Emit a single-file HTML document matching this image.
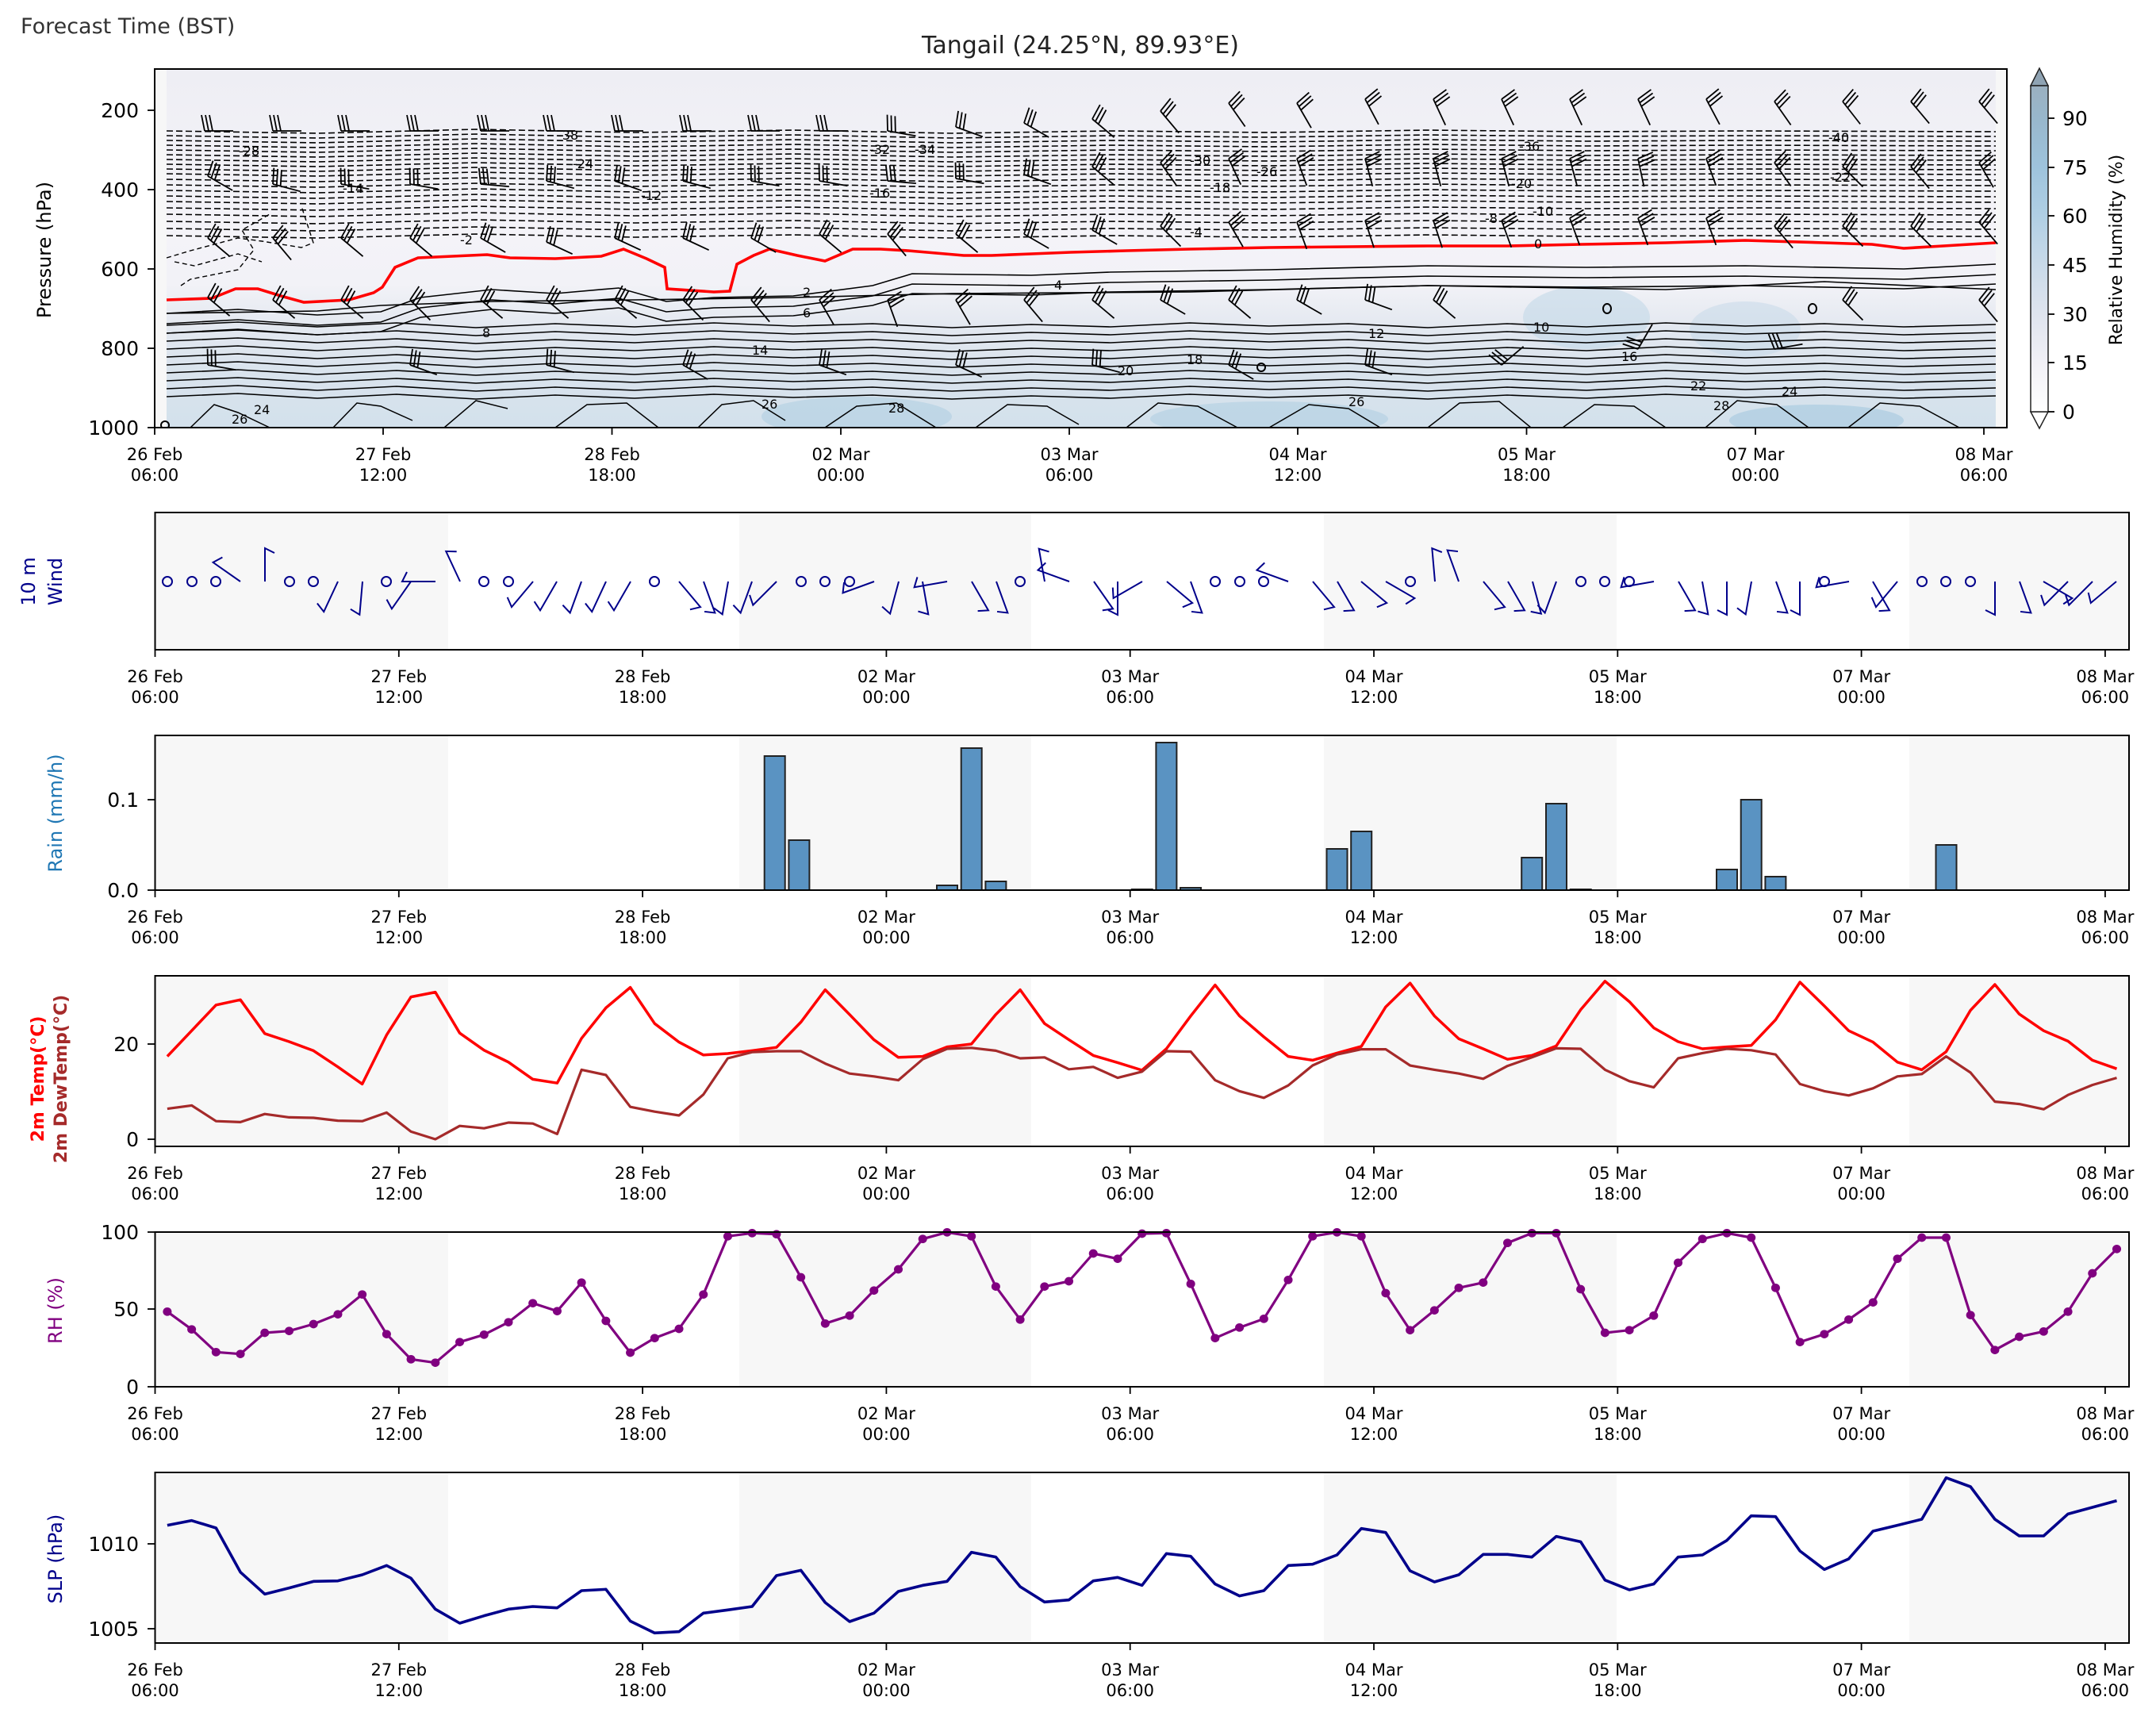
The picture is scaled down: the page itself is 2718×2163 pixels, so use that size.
<!DOCTYPE html>
<html><head><meta charset="utf-8"><style>
html,body{margin:0;padding:0;background:#fff}
svg{display:block}
text{font-family:"DejaVu Sans","Liberation Sans",sans-serif}
</style></head><body>
<svg width="2718" height="2163" viewBox="0 0 2718 2163" xmlns="http://www.w3.org/2000/svg">
<defs>
<linearGradient id="bg" x1="0" y1="87" x2="0" y2="539" gradientUnits="userSpaceOnUse">
<stop offset="0" stop-color="#eeeef4"/><stop offset="0.45" stop-color="#f4f3f8"/><stop offset="0.6" stop-color="#f2f2f7"/><stop offset="0.72" stop-color="#e3e8f0"/><stop offset="0.85" stop-color="#d9e3ed"/><stop offset="1" stop-color="#d3e1ec"/>
</linearGradient>
<linearGradient id="cb" x1="0" y1="519" x2="0" y2="108" gradientUnits="userSpaceOnUse">
<stop offset="0" stop-color="#ffffff"/><stop offset="0.15" stop-color="#f1f0f6"/><stop offset="0.3" stop-color="#dfe4ee"/><stop offset="0.45" stop-color="#c9dae9"/><stop offset="0.6" stop-color="#b0cfe4"/><stop offset="0.75" stop-color="#9ec3dc"/><stop offset="0.9" stop-color="#98b7cc"/><stop offset="1" stop-color="#9bb0c0"/>
</linearGradient>
<clipPath id="tc"><rect x="195" y="87" width="2335" height="452"/></clipPath>
<path id="dT" d="M210,0 L400,3 L600,-2 L800,2 L1000,-1 L1200,3 L1400,0 L1600,2 L1800,-1 L2000,1 L2200,0 L2516,1" fill="none" stroke="#000" stroke-width="1.6" stroke-dasharray="8 4"/>
<path id="sA" d="M210,60 L300,55 L400,62 L480,58 L530,40 L620,30 L700,35 L780,28 L840,45 L900,40 L1000,38 L1100,25 L1150,10 L1300,12 L1400,8 L1600,5 L1800,0 L2000,2 L2200,0 L2400,4 L2516,-2" fill="none" stroke="#000" stroke-width="1.6"/>
<path id="sB" d="M210,0 L300,-4 L400,2 L500,-3 L600,3 L700,-2 L800,2 L900,-3 L1000,1 L1100,-2 L1200,3 L1300,-1 L1400,2 L1500,-3 L1600,1 L1700,-2 L1800,3 L1900,-2 L2000,2 L2100,-3 L2200,1 L2300,-2 L2400,2 L2516,-1" fill="none" stroke="#000" stroke-width="1.6"/>
<path id="bb" d="M0,0 L36,0 M0,0 L-4,-20 M5,0 L1,-20 M10,0 L6,-20" fill="none" stroke="#000" stroke-width="1.8"/>
<path id="wb" d="M0,0 L0,42 L-12,36" fill="none" stroke="#00008b" stroke-width="2"/>
<marker id="rm" markerUnits="userSpaceOnUse" markerWidth="1" markerHeight="1" refX="0" refY="0" overflow="visible"><ellipse cx="0" cy="0" rx="0.18" ry="16" fill="#800080"/></marker>
</defs>

<text x="26" y="42" font-size="27" fill="#333">Forecast Time (BST)</text>
<text x="1362" y="67" font-size="30" text-anchor="middle" fill="#222">Tangail (24.25°N, 89.93°E)</text>

<!-- TOP PANEL -->
<rect x="195" y="87" width="2335" height="452" fill="#f7f7f7"/>
<g clip-path="url(#tc)">
<rect x="210" y="87" width="2306" height="452" fill="url(#bg)"/>
<ellipse cx="1080" cy="525" rx="120" ry="25" fill="#a9cbe0" opacity="0.5"/>
<ellipse cx="1600" cy="528" rx="150" ry="22" fill="#a9cbe0" opacity="0.5"/>
<ellipse cx="2000" cy="400" rx="80" ry="40" fill="#c3d8e8" opacity="0.6"/>
<ellipse cx="2200" cy="415" rx="70" ry="35" fill="#c3d8e8" opacity="0.5"/>
<ellipse cx="2290" cy="530" rx="110" ry="20" fill="#9cc3dc" opacity="0.5"/>
<use href="#dT" y="165"/><use href="#dT" y="171"/><use href="#dT" y="177"/><use href="#dT" y="183"/><use href="#dT" y="189"/><use href="#dT" y="195"/><use href="#dT" y="201"/><use href="#dT" y="207"/><use href="#dT" y="213"/><use href="#dT" y="219"/><use href="#dT" y="226"/><use href="#dT" y="233"/><use href="#dT" y="240"/><use href="#dT" y="247"/><use href="#dT" y="254"/><use href="#dT" y="262"/><use href="#dT" y="270"/><use href="#dT" y="279"/><use href="#dT" y="288"/><use href="#dT" y="297"/>
<path d="M210,325 L240,316 L300,300 L330,304 L380,312 L395,306 L380,260 M228,360 L240,352 L300,340 L320,315 L305,290 L340,270 M220,330 L245,335 L300,320 L330,330" fill="none" stroke="#000" stroke-width="1.4" stroke-dasharray="6 4"/>
<use href="#sA" y="335"/><use href="#sA" y="348"/><use href="#sA" y="360"/>
<use href="#sB" y="410"/><use href="#sB" y="420"/><use href="#sB" y="430"/><use href="#sB" y="440"/><use href="#sB" y="450"/><use href="#sB" y="460"/><use href="#sB" y="470"/><use href="#sB" y="480"/><use href="#sB" y="490"/><use href="#sB" y="500"/>
<path d="M210,395 L400,392 L480,385 L620,380 L800,378 L1000,375 L1200,370 L1500,368 L1800,360 L2100,365 L2300,355 L2516,365" fill="none" stroke="#000" stroke-width="1.6"/>
<path d="M240,539 L270,510 L300,520 L340,539 M420,539 L450,508 L480,512 L520,530 M560,539 L600,505 L640,515 M700,539 L740,510 L790,508 L830,539 M880,539 L910,510 L950,505 L990,530 M1040,539 L1080,512 L1130,508 L1180,539 M1230,539 L1270,510 L1320,512 L1360,535 M1420,539 L1460,508 L1510,512 L1560,539 M1600,539 L1650,510 L1700,515 L1740,539 M1800,539 L1840,508 L1890,506 L1930,539 M1970,539 L2010,510 L2060,512 L2100,539 M2150,539 L2190,505 L2240,510 L2280,539 M2330,539 L2370,508 L2420,512 L2470,539" fill="none" stroke="#000" stroke-width="1.5"/>
<polyline points="210,378 267,376 297,364 325,364 354,373 383,381 440,378 471,369 482,362 498,337 527,325 614,321 643,325 700,326 758,323 786,314 815,326 838,337 841,364 900,368 920,367 929,333 950,322 970,314 1005,322 1040,329 1075,314 1110,314 1145,316 1180,319 1215,322 1250,322 1300,320 1350,318 1420,316 1500,314 1600,312 1700,311 1800,310 1900,310 1994,308 2100,306 2200,303 2300,306 2360,308 2400,313 2450,310 2516,306" fill="none" stroke="#ff0000" stroke-width="3.6"/>
<g font-size="16" fill="#000">
<text x="301" y="196">-28</text><text x="703" y="176">-38</text><text x="722" y="212">-24</text><text x="432" y="243">-14</text><text x="808" y="252">-12</text><text x="580" y="308">-2</text><text x="608" y="425">8</text><text x="320" y="522">24</text><text x="292" y="534">26</text>
<text x="1096" y="194">-32</text><text x="1153" y="194">-34</text><text x="1096" y="249">-16</text><text x="1500" y="208">-30</text><text x="1584" y="222">-26</text><text x="1525" y="242">-18</text><text x="1500" y="298">-4</text><text x="1872" y="281">-8</text>
<text x="1012" y="374">2</text><text x="1329" y="365">4</text><text x="1012" y="400">6</text><text x="1725" y="426">12</text><text x="948" y="447">14</text><text x="1496" y="459">18</text><text x="1409" y="473">20</text>
<text x="2305" y="179">-40</text><text x="1915" y="190">-36</text><text x="1905" y="237">-20</text><text x="2307" y="229">-22</text><text x="1932" y="272">-10</text><text x="1934" y="313">0</text><text x="1933" y="418">10</text><text x="2044" y="455">16</text><text x="2131" y="492">22</text><text x="2246" y="499">24</text><text x="2160" y="517">28</text><text x="960" y="515">26</text><text x="1700" y="512">26</text><text x="1120" y="520">28</text>
</g>
<g>
<use href="#bb" transform="translate(258,165)"/><use href="#bb" transform="translate(344,165)"/><use href="#bb" transform="translate(430,165)"/><use href="#bb" transform="translate(517,165)"/><use href="#bb" transform="translate(606,165)"/><use href="#bb" transform="translate(689,165)"/><use href="#bb" transform="translate(775,165)"/><use href="#bb" transform="translate(861,165)"/><use href="#bb" transform="translate(947,165)"/><use href="#bb" transform="translate(1033,165)"/><use href="#bb" transform="translate(1119,165) rotate(10)"/><use href="#bb" transform="translate(1205,160) rotate(20)"/><use href="#bb" transform="translate(1291,155) rotate(30)"/><use href="#bb" transform="translate(1377,150) rotate(40)"/><use href="#bb" transform="translate(1463,140) rotate(50)"/><use href="#bb" transform="translate(1549,130) rotate(55)"/><use href="#bb" transform="translate(1635,130) rotate(60)"/><use href="#bb" transform="translate(1721,125) rotate(62)"/><use href="#bb" transform="translate(1807,125) rotate(65)"/><use href="#bb" transform="translate(1893,125) rotate(65)"/><use href="#bb" transform="translate(1979,125) rotate(65)"/><use href="#bb" transform="translate(2065,125) rotate(65)"/><use href="#bb" transform="translate(2151,125) rotate(62)"/><use href="#bb" transform="translate(2237,128) rotate(55)"/><use href="#bb" transform="translate(2323,128) rotate(52)"/><use href="#bb" transform="translate(2409,128) rotate(50)"/><use href="#bb" transform="translate(2495,128) rotate(50)"/>
<use href="#bb" transform="translate(262,222) rotate(30)"/><use href="#bb" transform="translate(344,232) rotate(15)"/><use href="#bb" transform="translate(430,232) rotate(10)"/><use href="#bb" transform="translate(517,232) rotate(10)"/><use href="#bb" transform="translate(606,232) rotate(5)"/><use href="#bb" transform="translate(689,228) rotate(15)"/><use href="#bb" transform="translate(775,228) rotate(20)"/><use href="#bb" transform="translate(861,228) rotate(15)"/><use href="#bb" transform="translate(947,228) rotate(10)"/><use href="#bb" transform="translate(1033,228) rotate(10)"/><use href="#bb" transform="translate(1119,228) rotate(5)"/><use href="#bb" transform="translate(1205,225) rotate(10)"/><use href="#bb" transform="translate(1291,220) rotate(20)"/><use href="#bb" transform="translate(1377,210) rotate(40)"/><use href="#bb" transform="translate(1463,205) rotate(55)"/><use href="#bb" transform="translate(1549,200) rotate(65)"/><use href="#bb" transform="translate(1635,200) rotate(70)"/><use href="#bb" transform="translate(1721,200) rotate(75)"/><use href="#bb" transform="translate(1807,200) rotate(75)"/><use href="#bb" transform="translate(1893,200) rotate(75)"/><use href="#bb" transform="translate(1979,200) rotate(75)"/><use href="#bb" transform="translate(2065,200) rotate(78)"/><use href="#bb" transform="translate(2151,200) rotate(70)"/><use href="#bb" transform="translate(2237,205) rotate(55)"/><use href="#bb" transform="translate(2323,210) rotate(45)"/><use href="#bb" transform="translate(2409,210) rotate(50)"/><use href="#bb" transform="translate(2495,205) rotate(60)"/>
<use href="#bb" transform="translate(262,300) rotate(40)"/><use href="#bb" transform="translate(344,300) rotate(50)"/><use href="#bb" transform="translate(430,300) rotate(40)"/><use href="#bb" transform="translate(517,300) rotate(40)"/><use href="#bb" transform="translate(606,300) rotate(30)"/><use href="#bb" transform="translate(689,305) rotate(25)"/><use href="#bb" transform="translate(775,300) rotate(25)"/><use href="#bb" transform="translate(861,300) rotate(25)"/><use href="#bb" transform="translate(947,300) rotate(30)"/><use href="#bb" transform="translate(1033,295) rotate(40)"/><use href="#bb" transform="translate(1119,295) rotate(50)"/><use href="#bb" transform="translate(1205,295) rotate(40)"/><use href="#bb" transform="translate(1291,295) rotate(30)"/><use href="#bb" transform="translate(1377,290) rotate(30)"/><use href="#bb" transform="translate(1463,285) rotate(45)"/><use href="#bb" transform="translate(1549,280) rotate(60)"/><use href="#bb" transform="translate(1635,280) rotate(70)"/><use href="#bb" transform="translate(1721,278) rotate(72)"/><use href="#bb" transform="translate(1807,278) rotate(72)"/><use href="#bb" transform="translate(1893,278) rotate(70)"/><use href="#bb" transform="translate(1979,275) rotate(70)"/><use href="#bb" transform="translate(2065,275) rotate(70)"/><use href="#bb" transform="translate(2151,275) rotate(70)"/><use href="#bb" transform="translate(2237,285) rotate(50)"/><use href="#bb" transform="translate(2323,285) rotate(45)"/><use href="#bb" transform="translate(2409,285) rotate(45)"/><use href="#bb" transform="translate(2495,280) rotate(50)"/>
<use href="#bb" transform="translate(262,375) rotate(40)"/><use href="#bb" transform="translate(344,378) rotate(40)"/><use href="#bb" transform="translate(430,378) rotate(40)"/><use href="#bb" transform="translate(517,378) rotate(45)"/><use href="#bb" transform="translate(606,378) rotate(40)"/><use href="#bb" transform="translate(689,378) rotate(40)"/><use href="#bb" transform="translate(775,378) rotate(40)"/><use href="#bb" transform="translate(861,378) rotate(45)"/><use href="#bb" transform="translate(947,378) rotate(50)"/><use href="#bb" transform="translate(1033,378) rotate(60)"/><use href="#bb" transform="translate(1119,378) rotate(70)"/><use href="#bb" transform="translate(1205,378) rotate(60)"/><use href="#bb" transform="translate(1291,378) rotate(50)"/><use href="#bb" transform="translate(1377,378) rotate(40)"/><use href="#bb" transform="translate(1463,378) rotate(30)"/><use href="#bb" transform="translate(1549,378) rotate(40)"/><use href="#bb" transform="translate(1635,378) rotate(30)"/><use href="#bb" transform="translate(1721,378) rotate(20)"/><use href="#bb" transform="translate(1807,378) rotate(40)"/><use href="#bb" transform="translate(2323,378) rotate(45)"/><use href="#bb" transform="translate(2495,378) rotate(50)"/>
<use href="#bb" transform="translate(262,460) rotate(10)"/><use href="#bb" transform="translate(517,460) rotate(20)"/><use href="#bb" transform="translate(689,460) rotate(15)"/><use href="#bb" transform="translate(861,460) rotate(30)"/><use href="#bb" transform="translate(1033,460) rotate(20)"/><use href="#bb" transform="translate(1205,460) rotate(25)"/><use href="#bb" transform="translate(1377,460) rotate(15)"/><use href="#bb" transform="translate(1549,460) rotate(30)"/><use href="#bb" transform="translate(1721,460) rotate(20)"/><use href="#bb" transform="translate(1893,460) rotate(-40)"/><use href="#bb" transform="translate(2065,440) rotate(-60)"/><use href="#bb" transform="translate(2237,440) rotate(-10)"/>
</g>
<g fill="none" stroke="#000" stroke-width="2"><ellipse cx="1590" cy="463" rx="5" ry="5"/><ellipse cx="2026" cy="389" rx="5" ry="6"/><ellipse cx="2285" cy="389" rx="5" ry="6"/><ellipse cx="208" cy="536" rx="5" ry="5"/></g>
</g>
<rect x="195" y="87" width="2335" height="452" fill="none" stroke="#000" stroke-width="2"/>
<g stroke="#000" stroke-width="1.8">
<line x1="186" y1="139" x2="195" y2="139"/><line x1="186" y1="239" x2="195" y2="239"/><line x1="186" y1="339" x2="195" y2="339"/><line x1="186" y1="439" x2="195" y2="439"/><line x1="186" y1="539" x2="195" y2="539"/>
<line x1="195" y1="539" x2="195" y2="548"/><line x1="483" y1="539" x2="483" y2="548"/><line x1="771.5" y1="539" x2="771.5" y2="548"/><line x1="1060" y1="539" x2="1060" y2="548"/><line x1="1348" y1="539" x2="1348" y2="548"/><line x1="1636" y1="539" x2="1636" y2="548"/><line x1="1924.5" y1="539" x2="1924.5" y2="548"/><line x1="2213" y1="539" x2="2213" y2="548"/><line x1="2501" y1="539" x2="2501" y2="548"/>
</g>
<g font-size="25" text-anchor="end" fill="#000"><text x="175" y="148">200</text><text x="175" y="248">400</text><text x="175" y="348">600</text><text x="175" y="448">800</text><text x="175" y="548">1000</text></g>
<text transform="translate(64,315) rotate(-90)" font-size="24" text-anchor="middle">Pressure (hPa)</text>
<g font-size="21" text-anchor="middle">
<text x="195" y="580">26 Feb</text><text x="195" y="606">06:00</text>
<text x="483" y="580">27 Feb</text><text x="483" y="606">12:00</text>
<text x="771.5" y="580">28 Feb</text><text x="771.5" y="606">18:00</text>
<text x="1060" y="580">02 Mar</text><text x="1060" y="606">00:00</text>
<text x="1348" y="580">03 Mar</text><text x="1348" y="606">06:00</text>
<text x="1636" y="580">04 Mar</text><text x="1636" y="606">12:00</text>
<text x="1924.5" y="580">05 Mar</text><text x="1924.5" y="606">18:00</text>
<text x="2213" y="580">07 Mar</text><text x="2213" y="606">00:00</text>
<text x="2501" y="580">08 Mar</text><text x="2501" y="606">06:00</text>
</g>
<!-- colorbar -->
<polygon points="2560,108 2571,86 2582,108" fill="#8fa3b3" stroke="#222" stroke-width="1.5"/>
<polygon points="2560,519 2571,540 2582,519" fill="#fff" stroke="#222" stroke-width="1.5"/>
<rect x="2560" y="108" width="22" height="411" fill="url(#cb)" stroke="#222" stroke-width="1.5"/>
<g stroke="#000" stroke-width="1.8"><line x1="2582" y1="519" x2="2590" y2="519"/><line x1="2582" y1="457" x2="2590" y2="457"/><line x1="2582" y1="396" x2="2590" y2="396"/><line x1="2582" y1="334" x2="2590" y2="334"/><line x1="2582" y1="272" x2="2590" y2="272"/><line x1="2582" y1="211" x2="2590" y2="211"/><line x1="2582" y1="149" x2="2590" y2="149"/></g>
<g font-size="25"><text x="2600" y="528">0</text><text x="2600" y="466">15</text><text x="2600" y="405">30</text><text x="2600" y="343">45</text><text x="2600" y="281">60</text><text x="2600" y="220">75</text><text x="2600" y="158">90</text></g>
<text transform="translate(2675,315) rotate(-90)" font-size="22" text-anchor="middle">Relative Humidity (%)</text>

<!-- LOWER PANELS BACKGROUNDS -->
<g fill="#f7f7f7">
<rect x="195.5" y="646" width="369.5" height="173"/><rect x="932" y="646" width="368" height="173"/><rect x="1669" y="646" width="369" height="173"/><rect x="2407" y="646" width="277" height="173"/>
<rect x="195.5" y="927" width="369.5" height="195"/><rect x="932" y="927" width="368" height="195"/><rect x="1669" y="927" width="369" height="195"/><rect x="2407" y="927" width="277" height="195"/>
<rect x="195.5" y="1230" width="369.5" height="215"/><rect x="932" y="1230" width="368" height="215"/><rect x="1669" y="1230" width="369" height="215"/><rect x="2407" y="1230" width="277" height="215"/>
<rect x="195.5" y="1553" width="369.5" height="195"/><rect x="932" y="1553" width="368" height="195"/><rect x="1669" y="1553" width="369" height="195"/><rect x="2407" y="1553" width="277" height="195"/>
<rect x="195.5" y="1856" width="369.5" height="215"/><rect x="932" y="1856" width="368" height="215"/><rect x="1669" y="1856" width="369" height="215"/><rect x="2407" y="1856" width="277" height="215"/>
</g>

<!-- wind 10m -->
<g fill="none" stroke="#00008b" stroke-width="2">
<circle cx="211" cy="733" r="6"/><circle cx="242" cy="733" r="6"/><circle cx="272" cy="733" r="6"/><circle cx="365" cy="733" r="6"/><circle cx="395" cy="733" r="6"/><circle cx="487" cy="733" r="6"/><circle cx="610" cy="733" r="6"/><circle cx="641" cy="733" r="6"/><circle cx="825" cy="733" r="6"/><circle cx="1010" cy="733" r="6"/><circle cx="1040" cy="733" r="6"/><circle cx="1071" cy="733" r="6"/><circle cx="1286" cy="733" r="6"/><circle cx="1532" cy="733" r="6"/><circle cx="1563" cy="733" r="6"/><circle cx="1593" cy="733" r="6"/><circle cx="1778" cy="733" r="6"/><circle cx="1993" cy="733" r="6"/><circle cx="2023" cy="733" r="6"/><circle cx="2054" cy="733" r="6"/><circle cx="2300" cy="733" r="6"/><circle cx="2423" cy="733" r="6"/><circle cx="2453" cy="733" r="6"/><circle cx="2484" cy="733" r="6"/>
</g>
<g>
<use href="#wb" transform="translate(303,733) rotate(125)"/><use href="#wb" transform="translate(334,733) rotate(180)"/><use href="#wb" transform="translate(426,733) rotate(25)"/><use href="#wb" transform="translate(457,733) rotate(5)"/><use href="#wb" transform="translate(518,733) rotate(35)"/><use href="#wb" transform="translate(549,733) rotate(90)"/><use href="#wb" transform="translate(580,733) rotate(155)"/><use href="#wb" transform="translate(672,733) rotate(40)"/><use href="#wb" transform="translate(702,733) rotate(30)"/><use href="#wb" transform="translate(733,733) rotate(20)"/><use href="#wb" transform="translate(764,733) rotate(25)"/><use href="#wb" transform="translate(795,733) rotate(30)"/><use href="#wb" transform="translate(856,733) rotate(-40)"/><use href="#wb" transform="translate(887,733) rotate(-20)"/><use href="#wb" transform="translate(918,733) rotate(10)"/><use href="#wb" transform="translate(948,733) rotate(20)"/><use href="#wb" transform="translate(979,733) rotate(45)"/><use href="#wb" transform="translate(1102,733) rotate(70)"/><use href="#wb" transform="translate(1133,733) rotate(15)"/><use href="#wb" transform="translate(1163,733) rotate(-10)"/><use href="#wb" transform="translate(1194,733) rotate(80)"/><use href="#wb" transform="translate(1225,733) rotate(-30)"/><use href="#wb" transform="translate(1256,733) rotate(-20)"/><use href="#wb" transform="translate(1317,733) rotate(170)"/><use href="#wb" transform="translate(1348,733) rotate(110)"/><use href="#wb" transform="translate(1379,733) rotate(-35)"/><use href="#wb" transform="translate(1409,733) rotate(0)"/><use href="#wb" transform="translate(1440,733) rotate(60)"/><use href="#wb" transform="translate(1471,733) rotate(-50)"/><use href="#wb" transform="translate(1501,733) rotate(-20)"/><use href="#wb" transform="translate(1624,733) rotate(110)"/><use href="#wb" transform="translate(1655,733) rotate(-40)"/><use href="#wb" transform="translate(1686,733) rotate(-30)"/><use href="#wb" transform="translate(1716,733) rotate(-50)"/><use href="#wb" transform="translate(1747,733) rotate(-60)"/><use href="#wb" transform="translate(1809,733) rotate(175)"/><use href="#wb" transform="translate(1839,733) rotate(160)"/><use href="#wb" transform="translate(1870,733) rotate(-40)"/><use href="#wb" transform="translate(1901,733) rotate(-30)"/><use href="#wb" transform="translate(1932,733) rotate(-15)"/><use href="#wb" transform="translate(1962,733) rotate(20)"/><use href="#wb" transform="translate(2085,733) rotate(80)"/><use href="#wb" transform="translate(2116,733) rotate(-30)"/><use href="#wb" transform="translate(2146,733) rotate(-10)"/><use href="#wb" transform="translate(2177,733) rotate(0)"/><use href="#wb" transform="translate(2208,733) rotate(10)"/><use href="#wb" transform="translate(2239,733) rotate(-20)"/><use href="#wb" transform="translate(2269,733) rotate(0)"/><use href="#wb" transform="translate(2331,733) rotate(80)"/><use href="#wb" transform="translate(2361,733) rotate(-30)"/><use href="#wb" transform="translate(2392,733) rotate(40)"/><use href="#wb" transform="translate(2515,733) rotate(0)"/><use href="#wb" transform="translate(2546,733) rotate(-20)"/><use href="#wb" transform="translate(2576,733) rotate(-60)"/><use href="#wb" transform="translate(2607,733) rotate(45)"/><use href="#wb" transform="translate(2638,733) rotate(45)"/><use href="#wb" transform="translate(2668,733) rotate(50)"/>
</g>

<!-- rain bars -->
<g fill="#5a93c2" stroke="#222" stroke-width="2">
<rect x="963.7" y="953" width="26" height="169"/><rect x="994.4" y="1059" width="26" height="63"/><rect x="1181" y="1116" width="26" height="6"/><rect x="1211.7" y="943" width="26" height="179"/><rect x="1242.4" y="1111" width="26" height="11"/><rect x="1426.7" y="1121" width="26" height="1"/><rect x="1457.4" y="936" width="26" height="186"/><rect x="1488" y="1119" width="26" height="3"/><rect x="1672.5" y="1070" width="26" height="52"/><rect x="1703.2" y="1048" width="26" height="74"/><rect x="1918.2" y="1081" width="26" height="41"/><rect x="1949" y="1013" width="26" height="109"/><rect x="1979.7" y="1121" width="26" height="1"/><rect x="2164" y="1096" width="26" height="26"/><rect x="2194.7" y="1008" width="26" height="114"/><rect x="2225.4" y="1105" width="26" height="17"/><rect x="2440.5" y="1065" width="26" height="57"/>
</g>

<!-- temp -->
<g transform="translate(210.9,1436) scale(30.72,-6)" fill="none">
<polyline vector-effect="non-scaling-stroke" stroke="#ff0000" stroke-width="3.5" stroke-linejoin="round" points="0,17.4 1,22.8 2,28.2 3,29.3 4,22.2 5,20.5 6,18.6 7,15.2 8,11.6 9,21.9 10,29.9 11,30.9 12,22.3 13,18.7 14,16.2 15,12.6 16,11.8 17,21.2 18,27.6 19,31.9 20,24.3 21,20.4 22,17.7 23,18.0 24,18.6 25,19.3 26,24.6 27,31.4 28,26.2 29,20.9 30,17.2 31,17.4 32,19.4 33,20.0 34,26.2 35,31.4 36,24.3 37,20.9 38,17.6 39,16.1 40,14.5 41,19.0 42,25.9 43,32.4 44,25.9 45,21.5 46,17.4 47,16.6 48,18.1 49,19.5 50,27.8 51,32.8 52,25.9 53,21.1 54,19.0 55,16.8 56,17.6 57,19.6 58,27.2 59,33.2 60,28.9 61,23.4 62,20.5 63,19.0 64,19.4 65,19.7 66,25.1 67,33.0 68,28.0 69,22.8 70,20.4 71,16.2 72,14.6 73,18.4 74,27.1 75,32.5 76,26.3 77,22.8 78,20.6 79,16.6 80,14.8"/>
<polyline vector-effect="non-scaling-stroke" stroke="#a52a2a" stroke-width="3.2" stroke-linejoin="round" points="0,6.4 1,7.1 2,3.8 3,3.6 4,5.3 5,4.6 6,4.5 7,3.9 8,3.8 9,5.6 10,1.6 11,0.0 12,2.8 13,2.3 14,3.5 15,3.3 16,1.1 17,14.6 18,13.5 19,6.8 20,5.8 21,5.0 22,9.4 23,17.0 24,18.3 25,18.5 26,18.5 27,15.9 28,13.8 29,13.2 30,12.4 31,16.8 32,19.0 33,19.2 34,18.6 35,17.0 36,17.2 37,14.7 38,15.2 39,12.9 40,14.2 41,18.5 42,18.4 43,12.4 44,10.1 45,8.7 46,11.3 47,15.5 48,17.8 49,18.9 50,18.9 51,15.5 52,14.6 53,13.8 54,12.7 55,15.4 56,17.2 57,19.1 58,19.0 59,14.6 60,12.2 61,10.9 62,17.0 63,18.1 64,19.0 65,18.7 66,17.8 67,11.6 68,10.1 69,9.2 70,10.7 71,13.2 72,13.7 73,17.4 74,14.0 75,7.9 76,7.4 77,6.3 78,9.3 79,11.4 80,12.9"/>
</g>

<!-- RH -->
<g transform="translate(210.9,1545) scale(30.72,0.33333)" fill="none">
<polyline vector-effect="non-scaling-stroke" stroke="#800080" stroke-width="3.2" stroke-linejoin="round" marker-start="url(#rm)" marker-mid="url(#rm)" marker-end="url(#rm)" points="0,325 1,392 2,478 3,485 4,405 5,398 6,372 7,335 8,260 9,410 10,505 11,518 12,440 13,412 14,365 15,293 16,323 17,215 18,360 19,480 20,425 21,390 22,260 23,40 24,28 25,32 26,195 27,370 28,340 29,245 30,165 31,50 32,25 33,40 34,230 35,355 36,230 37,210 38,105 39,125 40,30 41,28 42,220 43,425 44,385 45,352 46,205 47,40 48,25 49,40 50,255 51,395 52,320 53,235 54,215 55,65 56,28 57,28 58,240 59,405 60,395 61,340 62,140 63,50 64,28 65,45 66,235 67,440 68,410 69,355 70,290 71,125 72,45 73,45 74,338 75,470 76,420 77,400 78,325 79,180 80,88"/>
</g>

<!-- SLP -->
<g transform="translate(210.9,1850) scale(30.72,0.33333)" fill="none">
<polyline vector-effect="non-scaling-stroke" stroke="#00008b" stroke-width="3.6" stroke-linejoin="round" points="0,218 1,200 2,228 3,395 4,478 5,455 6,430 7,428 8,405 9,370 10,418 11,535 12,588 13,560 14,535 15,525 16,530 17,465 18,460 19,580 20,625 21,620 22,550 23,538 24,525 25,408 26,388 27,510 28,582 29,550 30,468 31,445 32,430 33,320 34,338 35,450 36,508 37,500 38,428 39,415 40,445 41,325 42,335 43,440 44,485 45,465 46,370 47,365 48,330 49,230 50,245 51,390 52,432 53,405 54,328 55,328 56,338 57,260 58,280 59,425 60,462 61,440 62,338 63,330 64,275 65,182 66,185 67,315 68,385 69,345 70,240 71,218 72,195 73,38 74,72 75,195 76,258 77,258 78,175 79,150 80,125"/>
</g>

<!-- lower frames -->
<g fill="none" stroke="#000" stroke-width="2">
<rect x="195.5" y="646" width="2488.5" height="173"/><rect x="195.5" y="927" width="2488.5" height="195"/><rect x="195.5" y="1230" width="2488.5" height="215"/><rect x="195.5" y="1553" width="2488.5" height="195"/><rect x="195.5" y="1856" width="2488.5" height="215"/>
</g>
<g stroke="#000" stroke-width="1.8">
<line x1="186" y1="1008" x2="195" y2="1008"/><line x1="186" y1="1122" x2="195" y2="1122"/>
<line x1="186" y1="1316" x2="195" y2="1316"/><line x1="186" y1="1436" x2="195" y2="1436"/>
<line x1="186" y1="1553" x2="195" y2="1553"/><line x1="186" y1="1650" x2="195" y2="1650"/><line x1="186" y1="1748" x2="195" y2="1748"/>
<line x1="186" y1="1946" x2="195" y2="1946"/><line x1="186" y1="2053" x2="195" y2="2053"/>
</g>
<g font-size="25" text-anchor="end">
<text x="175" y="1017">0.1</text><text x="175" y="1131">0.0</text>
<text x="175" y="1325">20</text><text x="175" y="1445">0</text>
<text x="175" y="1562">100</text><text x="175" y="1659">50</text><text x="175" y="1757">0</text>
<text x="175" y="1955">1010</text><text x="175" y="2062">1005</text>
</g>
<g stroke="#000" stroke-width="1.8">
<path d="M195.5,819v9M502.8,819v9M810.1,819v9M1117.4,819v9M1424.7,819v9M1732,819v9M2039.3,819v9M2346.6,819v9M2653.9,819v9"/>
<path d="M195.5,1122v9M502.8,1122v9M810.1,1122v9M1117.4,1122v9M1424.7,1122v9M1732,1122v9M2039.3,1122v9M2346.6,1122v9M2653.9,1122v9"/>
<path d="M195.5,1445v9M502.8,1445v9M810.1,1445v9M1117.4,1445v9M1424.7,1445v9M1732,1445v9M2039.3,1445v9M2346.6,1445v9M2653.9,1445v9"/>
<path d="M195.5,1748v9M502.8,1748v9M810.1,1748v9M1117.4,1748v9M1424.7,1748v9M1732,1748v9M2039.3,1748v9M2346.6,1748v9M2653.9,1748v9"/>
<path d="M195.5,2071v9M502.8,2071v9M810.1,2071v9M1117.4,2071v9M1424.7,2071v9M1732,2071v9M2039.3,2071v9M2346.6,2071v9M2653.9,2071v9"/>
</g>
<g font-size="21" text-anchor="middle">
<text x="195.5" y="860">26 Feb</text><text x="195.5" y="886">06:00</text><text x="502.8" y="860">27 Feb</text><text x="502.8" y="886">12:00</text><text x="810.1" y="860">28 Feb</text><text x="810.1" y="886">18:00</text><text x="1117.4" y="860">02 Mar</text><text x="1117.4" y="886">00:00</text><text x="1424.7" y="860">03 Mar</text><text x="1424.7" y="886">06:00</text><text x="1732" y="860">04 Mar</text><text x="1732" y="886">12:00</text><text x="2039.3" y="860">05 Mar</text><text x="2039.3" y="886">18:00</text><text x="2346.6" y="860">07 Mar</text><text x="2346.6" y="886">00:00</text><text x="2653.9" y="860">08 Mar</text><text x="2653.9" y="886">06:00</text>
<text x="195.5" y="1163">26 Feb</text><text x="195.5" y="1189">06:00</text><text x="502.8" y="1163">27 Feb</text><text x="502.8" y="1189">12:00</text><text x="810.1" y="1163">28 Feb</text><text x="810.1" y="1189">18:00</text><text x="1117.4" y="1163">02 Mar</text><text x="1117.4" y="1189">00:00</text><text x="1424.7" y="1163">03 Mar</text><text x="1424.7" y="1189">06:00</text><text x="1732" y="1163">04 Mar</text><text x="1732" y="1189">12:00</text><text x="2039.3" y="1163">05 Mar</text><text x="2039.3" y="1189">18:00</text><text x="2346.6" y="1163">07 Mar</text><text x="2346.6" y="1189">00:00</text><text x="2653.9" y="1163">08 Mar</text><text x="2653.9" y="1189">06:00</text>
<text x="195.5" y="1486">26 Feb</text><text x="195.5" y="1512">06:00</text><text x="502.8" y="1486">27 Feb</text><text x="502.8" y="1512">12:00</text><text x="810.1" y="1486">28 Feb</text><text x="810.1" y="1512">18:00</text><text x="1117.4" y="1486">02 Mar</text><text x="1117.4" y="1512">00:00</text><text x="1424.7" y="1486">03 Mar</text><text x="1424.7" y="1512">06:00</text><text x="1732" y="1486">04 Mar</text><text x="1732" y="1512">12:00</text><text x="2039.3" y="1486">05 Mar</text><text x="2039.3" y="1512">18:00</text><text x="2346.6" y="1486">07 Mar</text><text x="2346.6" y="1512">00:00</text><text x="2653.9" y="1486">08 Mar</text><text x="2653.9" y="1512">06:00</text>
<text x="195.5" y="1789">26 Feb</text><text x="195.5" y="1815">06:00</text><text x="502.8" y="1789">27 Feb</text><text x="502.8" y="1815">12:00</text><text x="810.1" y="1789">28 Feb</text><text x="810.1" y="1815">18:00</text><text x="1117.4" y="1789">02 Mar</text><text x="1117.4" y="1815">00:00</text><text x="1424.7" y="1789">03 Mar</text><text x="1424.7" y="1815">06:00</text><text x="1732" y="1789">04 Mar</text><text x="1732" y="1815">12:00</text><text x="2039.3" y="1789">05 Mar</text><text x="2039.3" y="1815">18:00</text><text x="2346.6" y="1789">07 Mar</text><text x="2346.6" y="1815">00:00</text><text x="2653.9" y="1789">08 Mar</text><text x="2653.9" y="1815">06:00</text>
<text x="195.5" y="2112">26 Feb</text><text x="195.5" y="2138">06:00</text><text x="502.8" y="2112">27 Feb</text><text x="502.8" y="2138">12:00</text><text x="810.1" y="2112">28 Feb</text><text x="810.1" y="2138">18:00</text><text x="1117.4" y="2112">02 Mar</text><text x="1117.4" y="2138">00:00</text><text x="1424.7" y="2112">03 Mar</text><text x="1424.7" y="2138">06:00</text><text x="1732" y="2112">04 Mar</text><text x="1732" y="2138">12:00</text><text x="2039.3" y="2112">05 Mar</text><text x="2039.3" y="2138">18:00</text><text x="2346.6" y="2112">07 Mar</text><text x="2346.6" y="2138">00:00</text><text x="2653.9" y="2112">08 Mar</text><text x="2653.9" y="2138">06:00</text>
</g>
<g font-size="24" text-anchor="middle">
<text transform="translate(44,733) rotate(-90)" fill="#00008b">10 m</text>
<text transform="translate(78,733) rotate(-90)" fill="#00008b">Wind</text>
<text transform="translate(78,1025) rotate(-90)" fill="#1f77b4">Rain (mm/h)</text>
<text transform="translate(55,1360) rotate(-90)" fill="#ff0000" font-weight="bold" font-size="22">2m Temp(°C)</text>
<text transform="translate(84,1360) rotate(-90)" fill="#a52a2a" font-weight="bold" font-size="22">2m DewTemp(°C)</text>
<text transform="translate(78,1652) rotate(-90)" fill="#800080">RH (%)</text>
<text transform="translate(78,1965) rotate(-90)" fill="#00008b">SLP (hPa)</text>
</g>
</svg>
</body></html>
